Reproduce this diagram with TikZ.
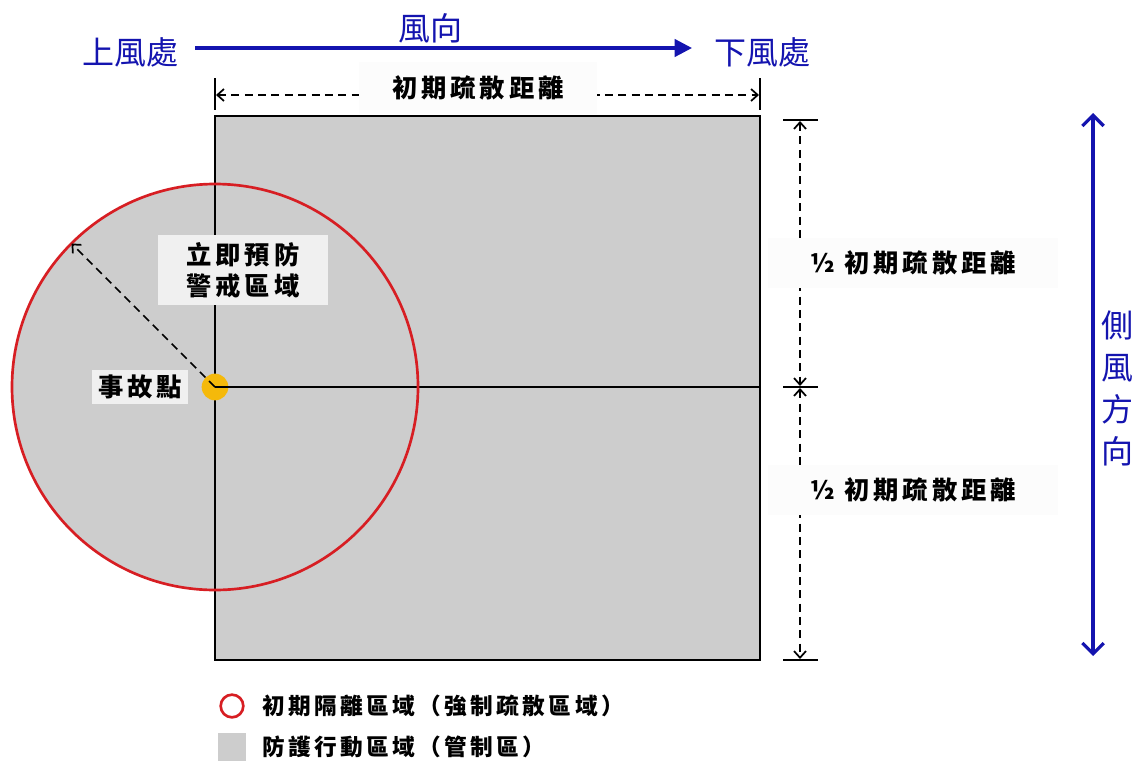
\documentclass[tikz,border=0pt]{standalone}
\usepackage{fontspec}
\usetikzlibrary{arrows.meta}
\setmainfont{Noto Sans CJK TC}
\newfontfamily\cjkb[LetterSpace=15]{Noto Sans CJK TC}
\newfontfamily\cjkblue{Noto Sans CJK TC}
\definecolor{windblue}{RGB}{20,20,175}
\definecolor{zonegray}{RGB}{205,205,205}
\definecolor{boxgray}{RGB}{240,240,240}
\definecolor{boxwhite}{RGB}{252,252,252}
\definecolor{isored}{RGB}{215,30,35}
\definecolor{dotyellow}{RGB}{245,185,10}
\begin{document}
\begin{tikzpicture}[x=0.75pt,y=-0.75pt,
  bluetxt/.style={font=\cjkblue\fontsize{24}{30}\selectfont, text=windblue, inner sep=0pt},
  lbl/.style={font=\cjkb\bfseries\fontsize{19}{23}\selectfont, inner sep=0pt, align=center},
  lgd/.style={font=\cjkb\bfseries\fontsize{17}{20}\selectfont, inner sep=0pt, anchor=west},
  dashsty/.style={dash pattern=on 6pt off 4pt, line width=1.3pt},
  dimline/.style={dashsty, {Straight Barb[length=5pt,width=9pt]}-{Straight Barb[length=5pt,width=9pt]}},
  tick/.style={line width=1.5pt},
  bluearrow/.style={windblue, line width=2.4pt}
]
\useasboundingbox (0,0) rectangle (1134,764);

% zones
\fill[zonegray] (215,387) circle [radius=203];
\fill[zonegray] (215,116) rectangle (760,660);
\draw[line width=1.6pt] (215,116) rectangle (760,660);
\coordinate (c) at (215,387);
\coordinate (e) at (760,387);
\draw[line width=1.6pt] (c) -- (e);
\draw[isored, line width=2pt] (c) circle [radius=203];
\coordinate (r) at (71.5,243.5);
\draw[dashsty, -{Straight Barb[length=5pt,width=9pt]}] (c) -- (r);
\node[circle, fill=dotyellow, minimum size=20pt, inner sep=0pt] (dot) at (c) {};
\draw[line width=1.3pt] (dot.center) -- ++(-6,-6);
\draw[line width=1.6pt] (dot.center) -- (dot.east);

% labels inside
\node[lbl, fill=boxgray, minimum width=128pt, minimum height=52pt] (warn) at (243,270) {立即預防\\警戒區域};
\node[lbl, fill=boxgray, minimum width=72pt, minimum height=25pt] (acc) at (140,387) {事故點};

% wind direction
\node[bluetxt] (up) at (130,52) {上風處};
\node[bluetxt] (down) at (762,52) {下風處};
\node[bluetxt] (wind) at (430,28) {風向};
\coordinate (wa) at (195,48);
\coordinate (wb) at (692,48);
\draw[bluearrow, -{Triangle[length=13pt,width=13pt]}] (wa) -- (wb);

% top dimension
\coordinate (t1a) at (215,78); \coordinate (t1b) at (215,110);
\coordinate (t2a) at (760,78); \coordinate (t2b) at (760,110);
\draw[tick] (t1a) -- (t1b);
\draw[tick] (t2a) -- (t2b);
\coordinate (d1) at (216,95); \coordinate (d2) at (759,95);
\draw[dimline] (d1) -- (d2);
\node[lbl, fill=boxwhite, minimum width=178pt, minimum height=39pt] (dist) at (478,88) {初期疏散距離};

% right dimension
\coordinate (h1a) at (783,120); \coordinate (h1b) at (818,120);
\coordinate (h2a) at (783,387); \coordinate (h2b) at (818,387);
\coordinate (h3a) at (783,660); \coordinate (h3b) at (818,660);
\draw[tick] (h1a) -- (h1b);
\draw[tick] (h2a) -- (h2b);
\draw[tick] (h3a) -- (h3b);
\coordinate (v1) at (800,121); \coordinate (v2) at (800,386);
\coordinate (v3) at (800,388); \coordinate (v4) at (800,659);
\draw[dimline] (v1) -- (v2);
\draw[dimline] (v3) -- (v4);
\node[lbl, fill=boxwhite, minimum width=218pt, minimum height=37pt] (half1) at (913,263) {½ 初期疏散距離};
\node[lbl, fill=boxwhite, minimum width=218pt, minimum height=37pt] (half2) at (913,490) {½ 初期疏散距離};

% cross wind
\coordinate (ca) at (1093,113);
\coordinate (cb) at (1093,656);
\draw[bluearrow, {Straight Barb[length=8pt,width=16pt]}-{Straight Barb[length=8pt,width=16pt]}] (ca) -- (cb);
\node[bluetxt, align=center, font=\cjkblue\fontsize{24}{31.5}\selectfont] (side) at (1117,388) {側\\風\\方\\向};

% legend
\node[circle, draw=isored, line width=2pt, minimum size=17pt, inner sep=0pt] (lg1) at (232,706) {};
\node[lgd] (lt1) at (262,706) {初期隔離區域（強制疏散區域）};
\node[rectangle, fill=zonegray, minimum size=21pt, inner sep=0pt] (lg2) at (232,747) {};
\node[lgd] (lt2) at (262,747) {防護行動區域（管制區）};
\end{tikzpicture}
\end{document}
